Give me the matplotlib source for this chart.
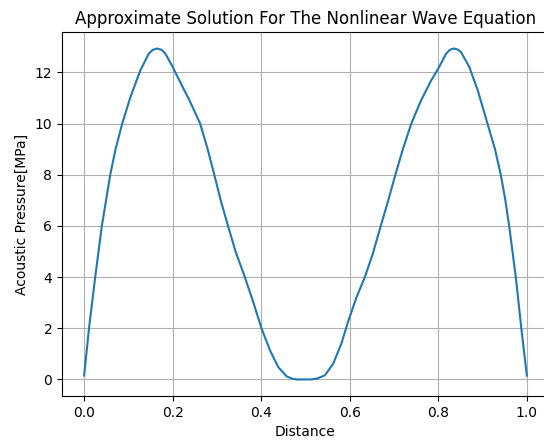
import matplotlib
matplotlib.use("Agg")
import matplotlib.pyplot as plt

# Sampled solution profile: position along the domain and acoustic pressure (MPa)
distance = [
    0.000, 0.011, 0.025, 0.040, 0.050, 0.059, 0.071, 0.086, 0.1047, 0.127,
    0.146, 0.155, 0.165, 0.175, 0.1835, 0.200, 0.217, 0.2397, 0.262, 0.279,
    0.294, 0.3085, 0.325, 0.342, 0.362, 0.382, 0.401, 0.420, 0.4385, 0.4575,
    0.470, 0.480, 0.4875, 0.500, 0.512, 0.525, 0.5437, 0.5624, 0.581, 0.597,
    0.615, 0.634, 0.652, 0.670, 0.687, 0.703, 0.720, 0.739, 0.761, 0.784,
    0.800, 0.8177, 0.826, 0.835, 0.843, 0.851, 0.870, 0.889, 0.911, 0.928,
    0.941, 0.951, 0.960, 0.975, 0.9875, 1.000,
]
pressure = [
    0.15, 2.00, 4.00, 6.00, 7.05, 8.00, 9.00, 10.00, 11.04, 12.08,
    12.73, 12.88, 12.93, 12.88, 12.73, 12.21, 11.62, 10.84, 10.00, 9.00,
    8.00, 7.00, 6.00, 5.00, 4.05, 3.02, 1.98, 1.13, 0.48, 0.12,
    0.03, 0.00, 0.00, 0.00, 0.00, 0.03, 0.16, 0.61, 1.40, 2.30,
    3.20, 4.00, 4.91, 6.00, 7.00, 8.00, 9.00, 10.00, 10.90, 11.69,
    12.15, 12.73, 12.88, 12.93, 12.90, 12.80, 12.21, 11.30, 10.00, 9.00,
    8.00, 7.05, 6.00, 4.00, 2.00, 0.15,
]

fig = plt.figure(figsize=(5.44, 4.41), dpi=100)
ax = fig.add_axes([62 / 544, 45 / 441, 487 / 544, 364 / 441])

ax.plot(distance, pressure, color="#1f77b4", linewidth=1.5)

ax.set_title("Approximate Solution For The Nonlinear Wave Equation", fontsize=12)
ax.set_xlabel("Distance", fontsize=10)
ax.set_ylabel("Acoustic Pressure[MPa]", fontsize=10)
ax.set_xticks([0.0, 0.2, 0.4, 0.6, 0.8, 1.0])
ax.set_yticks([0, 2, 4, 6, 8, 10, 12])
ax.tick_params(labelsize=10)
ax.grid(True, color="#b0b0b0", linewidth=0.8)
ax.set_axisbelow(True)

fig.savefig("out.png", dpi=100)
